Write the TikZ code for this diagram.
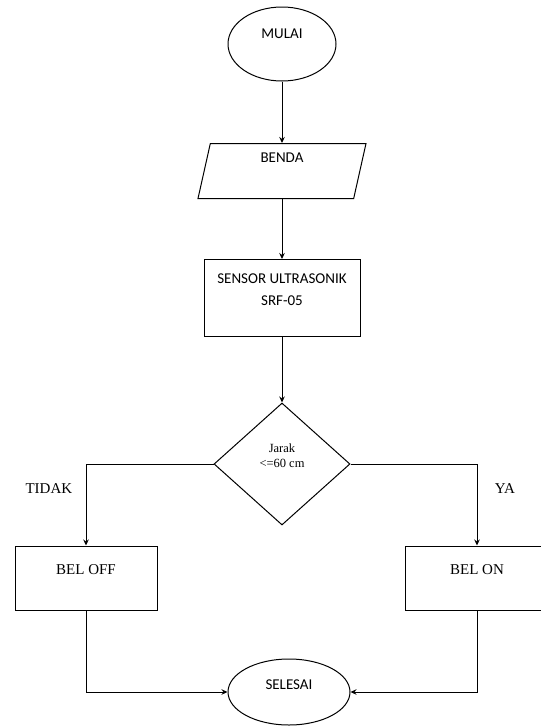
\documentclass[tikz,border=0pt]{standalone}
\usepackage{fontspec}
\setmainfont{Liberation Serif}
\newfontfamily\calibri{Carlito}
\usepackage{tikz}
\usetikzlibrary{arrows.meta, positioning, shapes.geometric}
\tikzstyle{startstop} = [ellipse, minimum width=108pt, minimum height=74pt, draw=black, line width=1pt, font=\calibri\fontsize{15}{18}\selectfont, text height=10pt, text depth=20.3pt]
\tikzstyle{io}        = [trapezium, trapezium left angle=74, trapezium right angle=106, trapezium stretches body, minimum width=168pt, minimum height=55pt, draw=black, line width=1pt, font=\calibri\fontsize{15}{18}\selectfont, text height=10pt, text depth=26.3pt]
\tikzstyle{process}   = [rectangle, minimum width=156pt, minimum height=77pt, align=center, draw=black, line width=1pt, font=\calibri\fontsize{15}{22}\selectfont, text height=25pt, text depth=10.3pt]
\tikzstyle{decision}  = [diamond, minimum width=136pt, minimum height=122pt, align=center, draw=black, line width=1pt, font=\fontsize{12.5}{15}\selectfont, text height=20pt, text depth=12.8pt]
\tikzstyle{result}    = [rectangle, minimum width=142pt, minimum height=64pt, draw=black, line width=1pt, font=\fontsize{15}{18}\selectfont, text height=10pt, text depth=18pt]
\tikzstyle{arrow}     = [line width=1pt,->,>={Stealth[length=6pt,width=5.5pt]}]

\begin{document}
\begin{tikzpicture}[node distance=127pt]
\useasboundingbox (0,0) rectangle (541pt,-726pt);
\node (mulai) [startstop] at (282pt,-44pt) {MULAI};
\node (benda) [io, below of=mulai] {BENDA};
\node (sensor) [process, below of=benda] {SENSOR ULTRASONIK\\SRF-05};
\node (jarak) [decision, below of=sensor, yshift=-39pt] {Jarak\\<=60 cm};
\node (beloff) [result, below of=jarak, xshift=-196pt, yshift=13pt] {BEL OFF};
\node (belon) [result, below of=jarak, xshift=195pt, yshift=13pt, minimum width=144pt] {BEL ON};
\node (selesai) [startstop, below of=jarak, xshift=7pt, yshift=-101pt, minimum width=122pt, minimum height=66pt, text depth=14.3pt] {SELESAI};

\draw [arrow] (mulai) -- (benda);
\draw [arrow] (benda) -- (sensor);
\draw [arrow] (sensor) -- (jarak);
\draw [arrow] (jarak.west) -| (beloff.north) node (tidak) [pos=0.65, left=10pt, font=\fontsize{15}{18}\selectfont]{TIDAK};
\draw [arrow] (jarak.east) -| (belon.north) node (ya) [pos=0.65, right=14pt, font=\fontsize{15}{18}\selectfont]{YA};
\draw [arrow] (beloff.south) |- (selesai.west);
\draw [arrow] (belon.south) |- (selesai.east);
\end{tikzpicture}
\end{document}
